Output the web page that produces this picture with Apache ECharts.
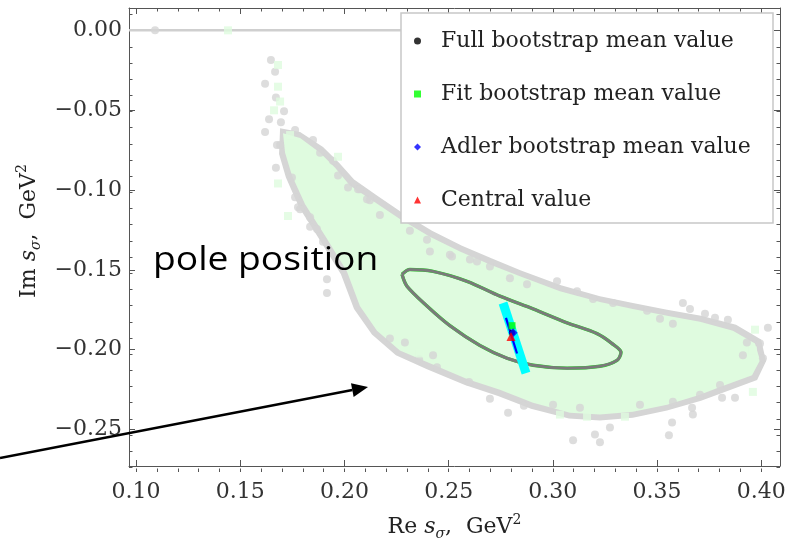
<!DOCTYPE html>
<html><head><meta charset="utf-8">
<script src="https://cdn.jsdelivr.net/npm/echarts@6/dist/echarts.min.js"></script>
<style>html,body{margin:0;padding:0;background:#fff}#c{width:789px;height:546px}</style>
</head><body><div id="c"></div>
<script>
// ---- axis ranges and ticks ----
const XMIN = 0.0966, XMAX = 0.409, YMIN = -0.2729, YMAX = 0.014;
const xMajorTicks = [0.10, 0.15, 0.20, 0.25, 0.30, 0.35, 0.40];
const xMinorTicks = [0.10,0.11,0.12,0.13,0.14,0.15,0.16,0.17,0.18,0.19,0.20,0.21,0.22,0.23,0.24,0.25,0.26,0.27,0.28,0.29,0.30,0.31,0.32,0.33,0.34,0.35,0.36,0.37,0.38,0.39,0.40];
const yMajorTicks = [-0.25, -0.20, -0.15, -0.10, -0.05, 0.00];
const yMinorTicks = [-0.27,-0.26,-0.25,-0.24,-0.23,-0.22,-0.21,-0.20,-0.19,-0.18,-0.17,-0.16,-0.15,-0.14,-0.13,-0.12,-0.11,-0.10,-0.09,-0.08,-0.07,-0.06,-0.05,-0.04,-0.03,-0.02,-0.01,0.00,0.01];

// ---- legend names ----
const legendNames = ['Full bootstrap mean value', 'Fit bootstrap mean value', 'Adler bootstrap mean value', 'Central value'];

// ---- dense bootstrap clouds (outlines) ----
const fullBootstrapOutline = [[0.1691,-0.0613],[0.1787,-0.0637],[0.1897,-0.0730],[0.1974,-0.0829],[0.2046,-0.0934],[0.2161,-0.1040],[0.2281,-0.1145],[0.2420,-0.1256],[0.2564,-0.1349],[0.2708,-0.1429],[0.2847,-0.1504],[0.3039,-0.1597],[0.3226,-0.1665],[0.3384,-0.1708],[0.3548,-0.1751],[0.3711,-0.1788],[0.3879,-0.1844],[0.3999,-0.1937],[0.4023,-0.2073],[0.3980,-0.2191],[0.3812,-0.2271],[0.3711,-0.2321],[0.3548,-0.2382],[0.3384,-0.2426],[0.3226,-0.2444],[0.3077,-0.2432],[0.2895,-0.2370],[0.2737,-0.2290],[0.2578,-0.2222],[0.2396,-0.2123],[0.2247,-0.2036],[0.2132,-0.1906],[0.2046,-0.1745],[0.1983,-0.1528],[0.1887,-0.1324],[0.1782,-0.1108],[0.1719,-0.0922],[0.1686,-0.0774]];
const fitBootstrapOutline = [[0.1705,-0.0644],[0.1787,-0.0675],[0.1883,-0.0767],[0.1955,-0.0860],[0.2026,-0.0972],[0.2146,-0.1077],[0.2266,-0.1182],[0.2410,-0.1293],[0.2554,-0.1386],[0.2698,-0.1467],[0.2842,-0.1541],[0.3034,-0.1634],[0.3226,-0.1702],[0.3384,-0.1745],[0.3548,-0.1788],[0.3706,-0.1825],[0.3864,-0.1881],[0.3970,-0.1962],[0.3994,-0.2067],[0.3956,-0.2160],[0.3802,-0.2234],[0.3706,-0.2283],[0.3548,-0.2345],[0.3384,-0.2389],[0.3226,-0.2407],[0.3082,-0.2395],[0.2905,-0.2333],[0.2746,-0.2252],[0.2588,-0.2184],[0.2410,-0.2085],[0.2266,-0.2005],[0.2156,-0.1881],[0.2074,-0.1727],[0.2012,-0.1510],[0.1916,-0.1306],[0.1811,-0.1089],[0.1748,-0.0910],[0.1715,-0.0767]];

// ---- individual scattered bootstrap points ----
const fullBootstrapPoints = [[0.1091,0],[0.1647,-0.0186],[0.1667,-0.0260],[0.1619,-0.0334],[0.1671,-0.0421],[0.1710,-0.0507],[0.1638,-0.0557],[0.1695,-0.0575],[0.1619,-0.0637],[0.1763,-0.0625],[0.1676,-0.0718],[0.1883,-0.0767],[0.1671,-0.0860],[0.2065,-0.0996],[0.2108,-0.1058],[0.1777,-0.1108],[0.1835,-0.1231],[0.1916,-0.1559],[0.1916,-0.1646],[0.2218,-0.1931],[0.2358,-0.2061],[0.2598,-0.2203],[0.2698,-0.2308],[0.2785,-0.2395],[0.2861,-0.2352],[0.3097,-0.2568],[0.3202,-0.2531],[0.3274,-0.2488],[0.3226,-0.2580],[0.3557,-0.2537],[0.3572,-0.2457],[0.3672,-0.2407],[0.3668,-0.2364],[0.3812,-0.2302],[0.3874,-0.2302],[0.4008,-0.2054],[0.3994,-0.1962],[0.4032,-0.1863],[0.3840,-0.1813],[0.3778,-0.1801],[0.3730,-0.1776],[0.3658,-0.1745],[0.3624,-0.1708],[0.3020,-0.1572],[0.2314,-0.1256],[0.2396,-0.1312],[0.2506,-0.1405],[0.2636,-0.1448],
  [0.1849,-0.0687],[0.1691,-0.0718],[0.1748,-0.0922],[0.1945,-0.0817],[0.1969,-0.0910],[0.2017,-0.0984],[0.2074,-0.0996],[0.2122,-0.1064],[0.2170,-0.1157],[0.1763,-0.1046],[0.1787,-0.1120],[0.1835,-0.1170],[0.1868,-0.1244],[0.1897,-0.1324],
  [0.2410,-0.1386],[0.2516,-0.1417],[0.2602,-0.1436],[0.2698,-0.1479],[0.2794,-0.1553],[0.2876,-0.1590],[0.3116,-0.1634],[0.3193,-0.1683],[0.3289,-0.1708],[0.3452,-0.1757],[0.3514,-0.1807],[0.3576,-0.1838],
  [0.2290,-0.1955],[0.2425,-0.2036],[0.2444,-0.2110],[0.3001,-0.2345],[0.3130,-0.2364],[0.3418,-0.2345],[0.3576,-0.2327],[0.3706,-0.2283],[0.3802,-0.2222],[0.3912,-0.2036],[0.3931,-0.1955]];
const fitBootstrapPoints = [[0.1441,0],[0.1681,-0.0217],[0.1681,-0.0353],[0.1691,-0.0446],[0.1662,-0.0501],[0.1739,-0.0656],[0.1969,-0.0792],[0.1681,-0.0959],[0.1729,-0.1163],[0.2362,-0.2024],[0.3034,-0.2407],[0.3164,-0.2420],[0.3346,-0.2420],[0.3960,-0.2265],[0.3970,-0.1875],[0.3960,-0.2005]];

// ---- real-axis line ----
const realAxisLine = [[0.0966,0],[0.26,0]];

// ---- error ellipses (full = grey, fit = green, nearly coincident) ----
const ellipseCurve = [[0.2276,-0.1528],[0.2314,-0.1498],[0.2425,-0.1510],[0.2588,-0.1572],[0.2746,-0.1665],[0.2905,-0.1745],[0.3068,-0.1832],[0.3212,-0.1900],[0.3284,-0.1962],[0.3327,-0.2017],[0.3308,-0.2067],[0.3226,-0.2104],[0.3068,-0.2116],[0.2905,-0.2098],[0.2780,-0.2054],[0.2650,-0.1974],[0.2506,-0.1850],[0.2396,-0.1727],[0.2300,-0.1603],[0.2276,-0.1528]];

// ---- Adler bootstrap band ----
const adlerBand = [[0.2761,-0.1708],[0.2871,-0.2147]];
const adlerLine = [[0.2775,-0.1801],[0.2828,-0.2024]];

// ---- mean values ----
const fullMean = [[0.2804,-0.1894]];
const fitMean = [[0.2804,-0.1850]];
const adlerMean = [[0.2809,-0.1894]];
const centralValue = [[0.2799,-0.1918]];

// ---- annotation (data coordinates) ----
const annotationText = 'pole position';
const annotationAnchor = [0.1081, -0.1440];
const arrowFrom = [0.0347, -0.2679];
const arrowTo = [0.2113, -0.2234];

const chart = echarts.init(document.getElementById('c'), null, {renderer: 'canvas'});

const axisLineStyle = {color: '#555', width: 1};
const serif = 'DejaVu Serif';
function fmt(v) { const s = Math.abs(v).toFixed(2); return v < -1e-9 ? '\u2212' + s : s; }
const nameRich = {
  a: {fontFamily: serif, fontSize: 22, color: '#222', lineHeight: 28},
  b: {fontFamily: serif, fontSize: 22, fontStyle: 'italic', color: '#222', lineHeight: 28},
  c: {fontFamily: serif, fontSize: 14, fontStyle: 'italic', color: '#222', lineHeight: 17, verticalAlign: 'bottom'},
  d: {fontFamily: serif, fontSize: 14, color: '#222', lineHeight: 17, verticalAlign: 'top'}
};

function mkX(gridIndex, position, ticks, len, withLabel) {
  const ax = {
    gridIndex, type: 'value', min: XMIN, max: XMAX, position,
    splitLine: {show: false},
    axisLine: {show: gridIndex === 0, onZero: false, lineStyle: axisLineStyle},
    axisTick: {show: true, inside: true, length: len, customValues: ticks, lineStyle: axisLineStyle},
    axisLabel: withLabel ? {show: true, customValues: ticks, formatter: fmt, margin: 15, fontFamily: serif, fontSize: 22, color: '#333'} : {show: false}
  };
  if (withLabel) {
    ax.name = '{a|Re }{b|s}{c|σ}{a|,  GeV}{d|2}';
    ax.nameLocation = 'middle';
    ax.nameGap = 47;
    ax.nameTextStyle = {rich: nameRich};
  }
  return ax;
}
function mkY(gridIndex, position, ticks, len, withLabel) {
  const ax = {
    gridIndex, type: 'value', min: YMIN, max: YMAX, position,
    splitLine: {show: false},
    axisLine: {show: gridIndex === 0, onZero: false, lineStyle: axisLineStyle},
    axisTick: {show: true, inside: true, length: len, customValues: ticks, lineStyle: axisLineStyle},
    axisLabel: withLabel ? {show: true, customValues: ticks, formatter: fmt, margin: 7, fontFamily: serif, fontSize: 22, color: '#333'} : {show: false}
  };
  if (withLabel) {
    ax.name = '{a|Im }{b|s}{c|σ}{a|,  GeV}{d|2}';
    ax.nameLocation = 'middle';
    ax.nameGap = 86;
    ax.nameRotate = 90;
    ax.nameTextStyle = {rich: nameRich, padding: [0, 0, 0, 12]};
  }
  return ax;
}

function polygonSeries(outline, color) {
  return {
    type: 'custom', data: outline, encode: {x: 0, y: 1}, silent: true, clip: true, z: 2,
    renderItem: function (params, api) {
      if (params.dataIndex !== 0) return {type: 'group', children: []};
      const pts = outline.map(p => api.coord(p));
      return {type: 'polygon', shape: {points: pts}, style: {fill: color}};
    }
  };
}

const GREY = '#d5d5d5', LGREEN = '#dffbdf';

const option = {
  animation: false,
  backgroundColor: '#fff',
  grid: [
    {left: 129, right: 9, top: 8, bottom: 74, containLabel: false},
    {left: 129, right: 9, top: 8, bottom: 74, containLabel: false}
  ],
  xAxis: [
    mkX(0, 'bottom', xMajorTicks, 6, true),
    mkX(0, 'top', xMajorTicks, 6, false),
    mkX(1, 'bottom', xMinorTicks, 3.5, false),
    mkX(1, 'top', xMinorTicks, 3.5, false)
  ],
  yAxis: [
    mkY(0, 'left', yMajorTicks, 6, true),
    mkY(0, 'right', yMajorTicks, 6, false),
    mkY(1, 'left', yMinorTicks, 3.5, false),
    mkY(1, 'right', yMinorTicks, 3.5, false)
  ],
  legend: {
    show: true, orient: 'vertical', left: 409, top: 24, z: 20,
    itemWidth: 7, itemHeight: 7, itemGap: 29, selectedMode: false,
    textStyle: {fontFamily: serif, fontSize: 22, color: '#222', lineHeight: 24, padding: [0, 0, 0, 15]},
    data: [
      {name: legendNames[0], icon: 'circle'},
      {name: legendNames[1], icon: 'rect'},
      {name: legendNames[2], icon: 'diamond'},
      {name: legendNames[3], icon: 'triangle'}
    ]
  },
  graphic: [
    {id: 'legendBox', type: 'rect', z: 10, silent: true,
     shape: {x: 401, y: 13, width: 372, height: 210},
     style: {fill: '#fff', stroke: '#c8c8c8', lineWidth: 1.5}}
  ],
  series: [
    {type: 'line', z: 2, data: realAxisLine, showSymbol: false, silent: true, lineStyle: {color: '#cfcfcf', width: 2.5}},
    polygonSeries(fullBootstrapOutline, GREY),
    {type: 'scatter', z: 2, data: fullBootstrapPoints, symbol: 'circle', symbolSize: 8, silent: true, itemStyle: {color: GREY}},
    polygonSeries(fitBootstrapOutline, LGREEN),
    {type: 'scatter', z: 2, data: fitBootstrapPoints, symbol: 'rect', symbolSize: 8, silent: true, itemStyle: {color: LGREEN}},
    {type: 'line', z: 3, data: ellipseCurve, smooth: 0.3, showSymbol: false, silent: true, lineStyle: {color: '#22dd22', width: 3.4}},
    {type: 'line', z: 4, data: ellipseCurve, smooth: 0.3, showSymbol: false, silent: true, lineStyle: {color: '#7a7a7a', width: 3.0}},
    {type: 'line', z: 5, data: adlerBand, showSymbol: false, silent: true, lineStyle: {color: '#00ffff', width: 9}},
    {type: 'line', z: 6, data: adlerLine, showSymbol: false, silent: true, lineStyle: {color: '#0000ff', width: 2.2}},
    {name: legendNames[0], type: 'scatter', z: 7, data: fullMean, symbol: 'circle', symbolSize: 6, itemStyle: {color: '#000'}},
    {name: legendNames[1], type: 'scatter', z: 7, data: fitMean, symbol: 'rect', symbolSize: 7, itemStyle: {color: '#00ff00'}},
    {name: legendNames[2], type: 'scatter', z: 7, data: adlerMean, symbol: 'diamond', symbolSize: 9, itemStyle: {color: '#0000ff'}},
    {name: legendNames[3], type: 'scatter', z: 8, data: centralValue, symbol: 'triangle', symbolSize: 9, itemStyle: {color: '#ff0000'}}
  ]
};
chart.setOption(option);

// annotation placed through the grid's own scales
const a0 = chart.convertToPixel({gridIndex: 0}, annotationAnchor);
const pS = chart.convertToPixel({gridIndex: 0}, arrowFrom);
const pE = chart.convertToPixel({gridIndex: 0}, arrowTo);
const ang = Math.atan2(pE[1] - pS[1], pE[0] - pS[0]);
const headLen = 16, headW = 7;
const base = [pE[0] - headLen * Math.cos(ang), pE[1] - headLen * Math.sin(ang)];
const hl = [base[0] + headW * Math.sin(ang), base[1] - headW * Math.cos(ang)];
const hr = [base[0] - headW * Math.sin(ang), base[1] + headW * Math.cos(ang)];
chart.setOption({
  graphic: [
    {id: 'legendBox', type: 'rect', z: 10, silent: true,
     shape: {x: 401, y: 13, width: 372, height: 210},
     style: {fill: '#fff', stroke: '#c8c8c8', lineWidth: 1.5}},
    {id: 'poleText', type: 'text', z: 30, silent: true, x: a0[0], y: a0[1], scaleX: 1.128, scaleY: 1,
     style: {text: annotationText, fontFamily: 'Open Sans', fontSize: 33, fill: '#000', align: 'left', verticalAlign: 'middle'}},
    {id: 'arrowLine', type: 'line', z: 30, silent: true,
     shape: {x1: pS[0], y1: pS[1], x2: base[0], y2: base[1]},
     style: {stroke: '#000', lineWidth: 2.5}},
    {id: 'arrowHead', type: 'polygon', z: 30, silent: true,
     shape: {points: [pE, hl, hr]}, style: {fill: '#000'}}
  ]
});
</script></body></html>
